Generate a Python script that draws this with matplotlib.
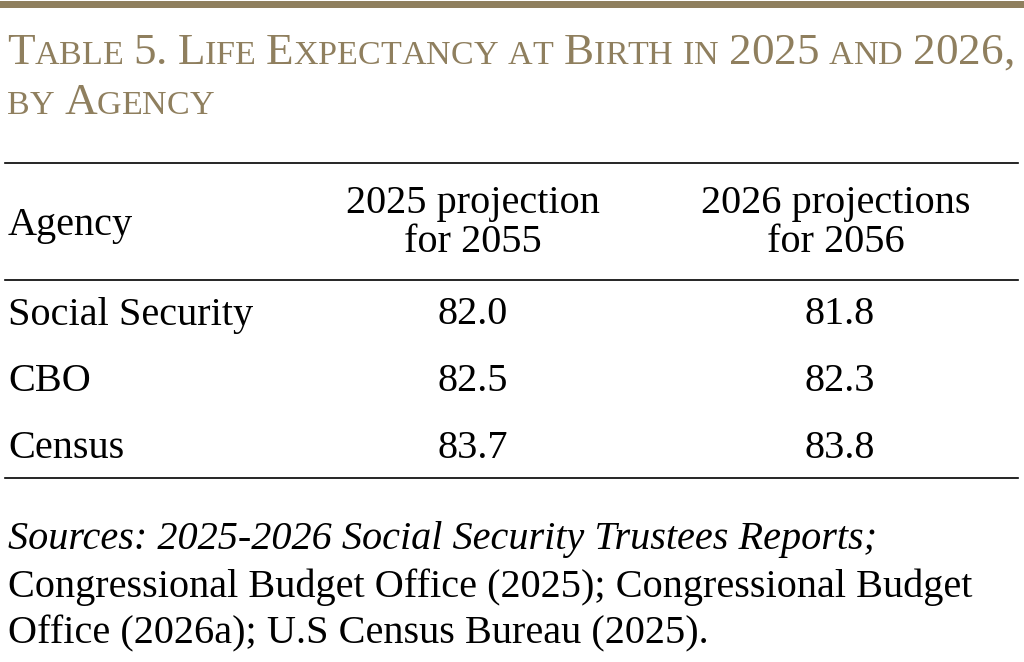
import matplotlib
matplotlib.use("Agg")
import matplotlib.pyplot as plt

agencies = ["Social Security", "CBO", "Census"]
proj_2025 = [82.0, 82.5, 83.7]
proj_2026 = [81.8, 82.3, 83.8]
col_heads = ["Agency", ["2025 projection", "for 2055"], ["2026 projections", "for 2056"]]
title_lines = ["Table 5. Life Expectancy at Birth in 2025 and 2026,", "by Agency"]
source_lines = ["Sources: 2025-2026 Social Security Trustees Reports;",
                "Congressional Budget Office (2025); Congressional Budget",
                "Office (2026a); U.S Census Bureau (2025)."]

W, H = 1024, 662
GOLD = "#8f7f5e"
FONT = "Liberation Serif"
fig = plt.figure(figsize=(W / 100, H / 100), dpi=100)
ax = fig.add_axes([0, 0, 1, 1])
ax.set_xlim(0, W); ax.set_ylim(H, 0); ax.axis("off")

ax.add_patch(plt.Rectangle((0, 1), W, 7, color=GOLD, lw=0))
for y in (163, 280, 478):
    ax.plot([5, 1018], [y, y], color="black", lw=1.2)

# small-caps title
renderer = fig.canvas.get_renderer()
big, small = 32.5, 24.5
def smallcaps(x, y, s):
    for ch in s:
        if ch.islower():
            t = ax.text(x, y, ch.upper(), fontsize=small, family=FONT, color=GOLD, va="baseline")
        else:
            t = ax.text(x, y, ch, fontsize=big, family=FONT, color=GOLD, va="baseline")
        bb = t.get_window_extent(renderer)
        x += bb.width if ch != " " else 10
smallcaps(7, 64, title_lines[0])
smallcaps(7, 114, title_lines[1])

fs = 29
ax.text(8, 225, col_heads[0], fontsize=fs, family=FONT, va="center")
for cx, h in zip((473, 836), col_heads[1:]):
    ax.text(cx, 203, h[0], fontsize=fs, family=FONT, ha="center", va="center")
    ax.text(cx, 243, h[1], fontsize=fs, family=FONT, ha="center", va="center")

for i, (a, v1, v2) in enumerate(zip(agencies, proj_2025, proj_2026)):
    y = 315 + i * 66.5
    ax.text(8, y, a, fontsize=fs, family=FONT, va="center")
    ax.text(473, y, f"{v1:.1f}", fontsize=fs, family=FONT, ha="center", va="center")
    ax.text(840, y, f"{v2:.1f}", fontsize=fs, family=FONT, ha="center", va="center")

for i, s in enumerate(source_lines):
    ax.text(8, 540 + i * 47, s, fontsize=fs, family=FONT, va="center",
            style="italic" if i == 0 else "normal")

fig.savefig("out.png", dpi=100, facecolor="white")
